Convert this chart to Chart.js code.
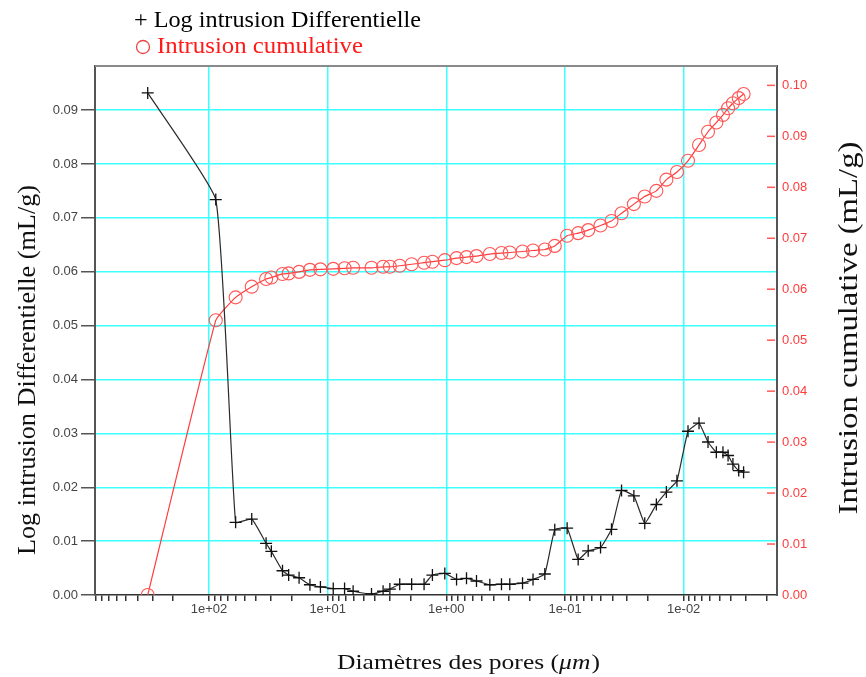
<!DOCTYPE html>
<html>
<head>
<meta charset="utf-8">
<title>Porosimetrie</title>
<script src="https://cdn.jsdelivr.net/npm/chart.js"></script>
<style>
  html, body { margin: 0; padding: 0; background: #fff; }
  #wrap { position: relative; width: 866px; height: 677px; }
</style>
</head>
<body>
<div id="wrap"><canvas id="poreChart" width="866" height="677"></canvas></div>
<script>
// diametres des pores (um)
const diameters = [
  328, 87.6, 59.6, 43.6, 33.0, 29.8, 24.0, 21.3, 17.4, 14.1,
  11.5, 8.97, 7.2, 6.1, 4.27, 3.41, 2.99, 2.47, 1.96, 1.54,
  1.31, 1.03, 0.82, 0.676, 0.557, 0.43, 0.343, 0.292, 0.228, 0.186,
  0.148, 0.122, 0.096, 0.0775, 0.0638, 0.0502, 0.0406, 0.0334, 0.0263, 0.0213,
  0.0170, 0.0140, 0.0114, 0.0092, 0.00743, 0.00624, 0.00531, 0.00467, 0.00423, 0.00385,
  0.00344, 0.00313
];
// Log intrusion differentielle (mL/g)
const logDiff = [
  0.0932, 0.0734, 0.0135, 0.0141, 0.0096, 0.0081, 0.0045, 0.0037, 0.0032, 0.0019,
  0.0015, 0.0012, 0.0012, 0.0007, 0.0002, 0.0007, 0.0011, 0.0020, 0.0020, 0.0020,
  0.0037, 0.0040, 0.0029, 0.0031, 0.0026, 0.0019, 0.0020, 0.0020, 0.0022, 0.0029,
  0.0039, 0.0121, 0.0124, 0.0066, 0.0082, 0.0088, 0.0122, 0.0194, 0.0184, 0.0133,
  0.0168, 0.0191, 0.0212, 0.0304, 0.0319, 0.0284, 0.0265, 0.0265, 0.0259, 0.0243,
  0.0231, 0.0228
];
// intrusion cumulative (mL/g)
const cumulative = [
  0.0, 0.0539, 0.0584, 0.0605, 0.0620, 0.0623, 0.0630, 0.0631, 0.0634, 0.0638,
  0.0639, 0.0640, 0.0641, 0.0642, 0.0642, 0.0644, 0.0644, 0.0646, 0.0649, 0.0652,
  0.0654, 0.0657, 0.0661, 0.0663, 0.0665, 0.0669, 0.0671, 0.0672, 0.0674, 0.0676,
  0.0678, 0.0685, 0.0705, 0.0710, 0.0716, 0.0725, 0.0734, 0.0749, 0.0767, 0.0782,
  0.0793, 0.0815, 0.0830, 0.0852, 0.0883, 0.0909, 0.0927, 0.0942, 0.0955, 0.0965,
  0.0975, 0.0983
];

const xTickValues = [100, 10, 1, 0.1, 0.01];
const xTickLabels = ['1e+02', '1e+01', '1e+00', '1e-01', '1e-02'];
const leftTicks = [0, 0.01, 0.02, 0.03, 0.04, 0.05, 0.06, 0.07, 0.08, 0.09];
const rightTicks = [0, 0.01, 0.02, 0.03, 0.04, 0.05, 0.06, 0.07, 0.08, 0.09, 0.10];

const X_MIN = 0.001637, X_MAX = 912;
const CYAN = '#3cffff';
const SERIF = '"Liberation Serif", "Times New Roman", serif';

// minor ticks 1..9 x 10^n inside the axis range
const xMinorTicks = [];
for (let e = -3; e <= 2; e++) {
  for (let m = 1; m <= 9; m++) {
    const v = +(m * Math.pow(10, e)).toPrecision(6);
    if (v >= X_MIN && v <= X_MAX) xMinorTicks.push(v);
  }
}

const isDecade = (v) => xTickValues.some(d => Math.abs(v - d) / d < 1e-6);

// draw text stretched along its direction so it spans "len" pixels
function fitText(ctx, text, len) {
  const w = ctx.measureText(text).width;
  ctx.save();
  ctx.scale(len / w, 1);
  ctx.fillText(text, 0, 0);
  ctx.restore();
}

// frame, inward ticks on the right axis, titles and legend
const decorPlugin = {
  id: 'decor',
  afterDatasetsDraw(chart) {
    const { ctx, chartArea: a, scales } = chart;
    ctx.save();
    ctx.strokeStyle = '#8a8a8a';
    ctx.lineWidth = 2;
    ctx.beginPath();
    ctx.moveTo(a.left, a.top);
    ctx.lineTo(a.right, a.top);
    ctx.stroke();

    ctx.strokeStyle = '#ff5a5a';
    ctx.lineWidth = 1.5;
    rightTicks.forEach(v => {
      if (v === 0) return;
      const y = scales.y1.getPixelForValue(v);
      ctx.beginPath();
      ctx.moveTo(a.right - 10, y);
      ctx.lineTo(a.right - 2, y);
      ctx.stroke();
    });
    ctx.restore();
  },
  afterDraw(chart) {
    const { ctx } = chart;
    ctx.save();
    ctx.textBaseline = 'alphabetic';
    ctx.textAlign = 'left';

    // legend
    ctx.font = '23px ' + SERIF;
    ctx.fillStyle = '#000';
    ctx.save(); ctx.translate(134, 27); fitText(ctx, '+ Log intrusion Differentielle', 287); ctx.restore();
    ctx.strokeStyle = '#e84545';
    ctx.lineWidth = 1.3;
    ctx.beginPath();
    ctx.arc(143, 47, 6.5, 0, Math.PI * 2);
    ctx.stroke();
    ctx.fillStyle = '#ff1a1a';
    ctx.save(); ctx.translate(157, 53); fitText(ctx, 'Intrusion cumulative', 206); ctx.restore();

    // y titles
    ctx.fillStyle = '#111';
    ctx.textAlign = 'center';
    ctx.textBaseline = 'middle';
    ctx.save();
    ctx.translate(28, 370);
    ctx.rotate(-Math.PI / 2);
    ctx.font = '25px ' + SERIF;
    fitText(ctx, 'Log intrusion Differentielle (mL/g)', 370);
    ctx.restore();
    ctx.save();
    ctx.translate(850, 328);
    ctx.rotate(-Math.PI / 2);
    ctx.font = '28px ' + SERIF;
    fitText(ctx, 'Intrusion cumulative (mL/g)', 373);
    ctx.restore();

    // x title with italic unit
    ctx.textBaseline = 'alphabetic';
    ctx.textAlign = 'left';
    const p1 = 'Diamètres des pores (', p2 = 'μm', p3 = ')';
    const up = '22px ' + SERIF, it = 'italic 22px ' + SERIF;
    ctx.font = up; const w1 = ctx.measureText(p1).width, w3 = ctx.measureText(p3).width;
    ctx.font = it; const w2 = ctx.measureText(p2).width;
    const total = w1 + w2 + w3 + 1;
    const k = 263 / total;
    ctx.save();
    ctx.translate(337, 669);
    ctx.scale(k, 1);
    ctx.font = up; ctx.fillText(p1, 0, 0);
    ctx.font = it; ctx.fillText(p2, w1, 0);
    ctx.font = up; ctx.fillText(p3, w1 + w2 + 1, 0);
    ctx.restore();
    ctx.restore();
  }
};

const tickFont = { family: '"Liberation Sans", Arial, sans-serif', size: 13 };

new Chart(document.getElementById('poreChart'), {
  type: 'scatter',
  data: {
    datasets: [
      {
        label: 'Log intrusion Differentielle',
        data: diameters.map((d, i) => ({ x: d, y: logDiff[i] })),
        yAxisID: 'y',
        showLine: true,
        borderColor: '#2a2a2a',
        borderWidth: 1.2,
        tension: 0.12,
        pointStyle: 'cross',
        pointRadius: 6,
        pointBorderWidth: 1.3,
        pointBorderColor: '#111',
        order: 1
      },
      {
        label: 'Intrusion cumulative',
        data: diameters.map((d, i) => ({ x: d, y: cumulative[i] })),
        yAxisID: 'y1',
        showLine: true,
        borderColor: '#ff3b3b',
        borderWidth: 1.2,
        tension: 0.12,
        pointStyle: 'circle',
        pointRadius: 6.5,
        pointBackgroundColor: 'rgba(0,0,0,0)',
        pointBorderColor: '#ff5555',
        pointBorderWidth: 1.1,
        order: 2
      }
    ]
  },
  options: {
    responsive: false,
    animation: false,
    layout: { padding: { top: 66, left: 0, right: 0, bottom: 0 } },
    plugins: {
      legend: { display: false },
      tooltip: { enabled: false }
    },
    scales: {
      x: {
        type: 'logarithmic',
        position: 'bottom',
        reverse: true,
        min: X_MIN,
        max: X_MAX,
        afterBuildTicks: (s) => { s.ticks = xMinorTicks.map(v => ({ value: v })); },
        afterFit: (s) => { s.height = 82; },
        ticks: {
          autoSkip: false,
          maxRotation: 0,
          font: tickFont,
          color: '#444',
          padding: 1,
          callback: (v) => {
            const i = xTickValues.findIndex(d => Math.abs(v - d) / d < 1e-6);
            return i >= 0 ? xTickLabels[i] : '';
          }
        },
        grid: {
          color: (c) => (c.tick && isDecade(c.tick.value)) ? CYAN : 'rgba(0,0,0,0)',
          lineWidth: 1.5,
          tickColor: '#333',
          tickLength: 6
        },
        border: { color: '#333', width: 1.5 }
      },
      y: {
        type: 'linear',
        position: 'left',
        min: 0,
        max: 0.0982,
        afterBuildTicks: (s) => { s.ticks = leftTicks.map(v => ({ value: v })); },
        afterFit: (s) => { s.width = 95; },
        ticks: {
          font: tickFont,
          color: '#444',
          padding: 3,
          callback: (v) => v.toFixed(2)
        },
        grid: {
          color: (c) => (c.tick && c.tick.value > 0) ? CYAN : 'rgba(0,0,0,0)',
          lineWidth: 1.5,
          tickColor: '#555',
          tickLength: 14
        },
        border: { color: '#555', width: 2 }
      },
      y1: {
        type: 'linear',
        position: 'right',
        min: 0,
        max: 0.1038,
        afterBuildTicks: (s) => { s.ticks = rightTicks.map(v => ({ value: v })); },
        afterFit: (s) => { s.width = 89; },
        ticks: {
          font: tickFont,
          color: '#ff3b3b',
          padding: 5,
          callback: (v) => v.toFixed(2)
        },
        grid: { drawOnChartArea: false, drawTicks: false },
        border: { color: '#555', width: 2 }
      }
    }
  },
  plugins: [decorPlugin]
});
</script>
</body>
</html>
